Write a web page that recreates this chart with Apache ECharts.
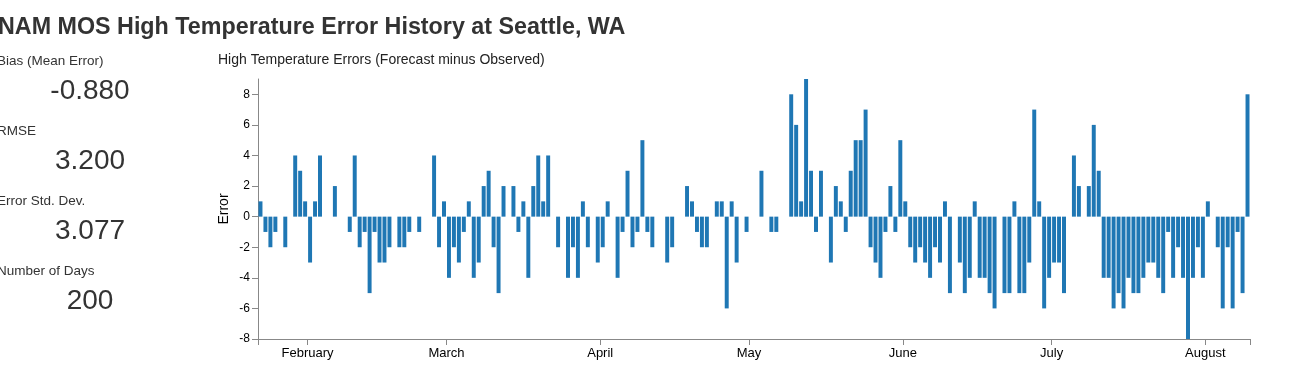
<!DOCTYPE html>
<html>
<head>
<meta charset="utf-8">
<script src="https://cdn.jsdelivr.net/npm/echarts@6/dist/echarts.min.js"></script>
<style>
html,body{margin:0;padding:0;background:#fff;overflow:hidden}
#chart{width:1299px;height:375px}
</style>
</head>
<body>
<div id="chart"></div>
<script>
// ---- data ----
const START_DATE = '2015-01-22';
const DAY_COUNT = 200;
const errors = [
  1,-1,-2,-1,0,-2,0,4,3,1,
  -3,1,4,0,0,2,0,0,-1,4,
  -2,-1,-5,-1,-3,-3,-2,0,-2,-2,
  -1,0,-1,0,0,4,-2,1,-4,-2,
  -3,-1,1,-4,-3,2,3,-2,-5,2,
  0,2,-1,1,-4,2,4,1,4,0,
  -2,0,-4,-2,-4,1,-2,0,-3,-2,
  1,0,-4,-1,3,-2,-1,5,-1,-2,
  0,0,-3,-2,0,0,2,1,-1,-2,
  -2,0,1,1,-6,1,-3,0,-1,0,
  0,3,0,-1,-1,0,0,8,6,1,
  9,3,-1,3,0,-3,2,1,-1,3,
  5,5,7,-2,-3,-4,-1,2,-1,5,
  1,-2,-3,-2,-3,-4,-2,-3,1,-5,
  0,-3,-5,-4,1,-4,-4,-5,-6,0,
  -5,-5,1,-5,-5,-3,7,1,-6,-4,
  -3,-3,-5,0,4,2,0,2,6,3,
  -4,-4,-6,-5,-6,-4,-5,-5,-4,-3,
  -3,-4,-5,-1,-4,-2,-4,-8,-4,-2,
  -4,1,0,-2,-6,-2,-6,-1,-5,8
];
const yTicks = [-8,-6,-4,-2,0,2,4,6,8];
const monthNames = ['January','February','March','April','May','June','July','August','September','October','November','December'];
const statLabels = ['Bias (Mean Error)','RMSE','Error Std. Dev.','Number of Days'];
const statValues = ['-0.880','3.200','3.077','200'];
const titleText = 'NAM MOS High Temperature Error History at Seattle, WA';
const subtitleText = 'High Temperature Errors (Forecast minus Observed)';

// ---- categories (one per day) ----
const days = [];
const d0 = new Date(START_DATE + 'T00:00:00Z');
for (let i = 0; i < DAY_COUNT; i++) {
  days.push(new Date(d0.getTime() + i * 86400000).toISOString().slice(0, 10));
}
const isMonthStart = v => v.slice(8, 10) === '01';

const FONT = '"Liberation Sans", Arial, Helvetica, sans-serif';

const graphic = [
  { type: 'text', x: -2, y: 28, style: { text: titleText, font: 'bold 23.3px ' + FONT, fill: '#333', textAlign: 'left', textVerticalAlign: 'middle' } },
  { type: 'text', x: 218, y: 60.5, style: { text: subtitleText, font: '14px ' + FONT, fill: '#222', textAlign: 'left', textVerticalAlign: 'middle' } }
];
statLabels.forEach((lab, i) => {
  graphic.push({ type: 'text', x: -3, y: 61 + 70 * i, style: { text: lab, font: '13.5px ' + FONT, fill: '#333', textAlign: 'left', textVerticalAlign: 'middle' } });
  graphic.push({ type: 'text', x: 90, y: 91 + 70 * i, style: { text: statValues[i], font: '28px ' + FONT, fill: '#333', textAlign: 'center', textVerticalAlign: 'middle' } });
});

const chart = echarts.init(document.getElementById('chart'), null, { renderer: 'canvas' });
chart.setOption({
  animation: false,
  backgroundColor: '#fff',
  textStyle: { fontFamily: FONT },
  graphic: graphic,
  grid: { left: 258, right: 49, top: 79, bottom: 36, containLabel: false },
  xAxis: {
    type: 'category',
    data: days,
    boundaryGap: true,
    axisLine: { onZero: false, lineStyle: { color: '#888', width: 1 } },
    axisTick: {
      show: true, length: 6, alignWithLabel: false,
      interval: (idx, v) => idx === 0 || isMonthStart(v),
      lineStyle: { color: '#888' }
    },
    axisLabel: {
      interval: (idx, v) => isMonthStart(v),
      formatter: v => monthNames[parseInt(v.slice(5, 7), 10) - 1],
      color: '#000', fontSize: 13, margin: 8, padding: [0, 5, 0, 0]
    },
    splitLine: { show: false }
  },
  yAxis: {
    type: 'value',
    min: -8, max: 9,
    name: 'Error', nameLocation: 'middle', nameGap: 27, nameMoveOverlap: false,
    nameTextStyle: { color: '#000', fontSize: 14 },
    axisLine: { show: true, lineStyle: { color: '#888', width: 1 } },
    axisTick: { show: true, length: 6, customValues: yTicks, lineStyle: { color: '#888' } },
    axisLabel: { customValues: yTicks, color: '#000', fontSize: 12, margin: 8 },
    splitLine: { show: false }
  },
  series: [{
    type: 'bar',
    data: errors,
    barCategoryGap: '20%',
    itemStyle: { color: '#1f77b4' }
  }]
});
</script>
</body>
</html>
